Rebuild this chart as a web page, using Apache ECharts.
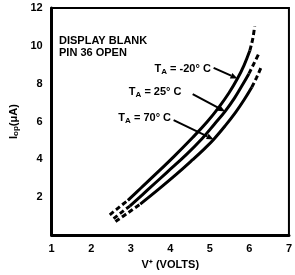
<!DOCTYPE html>
<html>
<head>
<meta charset="utf-8">
<script src="https://cdn.jsdelivr.net/npm/echarts@6/dist/echarts.min.js"></script>
<style>
  html, body { margin: 0; padding: 0; background: #fff; }
  #main { width: 295px; height: 275px; }
</style>
</head>
<body>
<div id="main"></div>
<script>
// axis ticks
var xTicks = [1, 2, 3, 4, 5, 6, 7];
var yTicks = [2, 4, 6, 8, 10, 12];

// TA = -20 C  (dashed ends + solid middle)
var cold_lo = [[2.470, 1.072], [2.711, 1.481], [2.928, 1.838]];
var cold_mid = [[2.928, 1.838], [3.265, 2.502], [3.602, 3.166], [4.084, 4.136], [4.566, 5.157], [4.928, 5.974],
  [5.241, 6.791], [5.482, 7.506], [5.699, 8.272], [5.867, 8.987], [6.012, 9.753]];
var cold_hi = [[6.012, 9.753], [6.084, 10.366], [6.133, 11.030]];

// TA = 25 C
var room_lo = [[2.566, 0.868], [2.783, 1.226], [2.976, 1.532]];
var room_mid = [[2.976, 1.532], [3.434, 2.400], [3.916, 3.319], [4.398, 4.238], [4.807, 5.106], [5.120, 5.872],
  [5.386, 6.536], [5.627, 7.251], [5.819, 7.915], [5.988, 8.528]];
var room_hi = [[5.988, 8.528], [6.108, 9.038], [6.229, 9.549]];

// TA = 70 C
var hot_lo = [[2.614, 0.715], [2.928, 1.174], [3.241, 1.634]];
var hot_mid = [[3.241, 1.634], [3.723, 2.451], [4.157, 3.217], [4.566, 3.983], [4.855, 4.545], [5.096, 5.055],
  [5.386, 5.770], [5.651, 6.485], [5.867, 7.149], [6.060, 7.813]];
var hot_hi = [[6.060, 7.813], [6.181, 8.323], [6.301, 8.885]];

// labels and pointer arrows (label left edge, arrow from label to curve, data coords)
var labels = [
  { t: '-20° C', at: [3.602, 8.783], from: [5.096, 8.834], to: [5.699, 8.272] },
  { t: '25° C',  at: [2.952, 7.557], from: [4.566, 7.455], to: [5.386, 6.536] },
  { t: '70° C',  at: [2.687, 6.179], from: [4.084, 6.077], to: [5.096, 5.055] }
];

var chart = echarts.init(document.getElementById('main'));
var font = '"Liberation Sans", Arial, sans-serif';

function curve(data, dashed) {
  return {
    type: 'line',
    data: data,
    smooth: 0.4,
    symbol: 'none',
    silent: true,
    lineStyle: { color: '#000', width: 3, type: dashed ? [5, 3] : 'solid' }
  };
}

chart.setOption({
  animation: false,
  grid: { left: 42, right: 4, top: 8, bottom: 32, show: true, borderColor: '#000', borderWidth: 2 },
  xAxis: {
    type: 'value', min: 1, max: 7, interval: 1,
    axisLine: { show: true, onZero: false, lineStyle: { color: '#000', width: 3 } },
    axisTick: { show: false },
    splitLine: { show: false },
    axisLabel: { color: '#000', fontWeight: 'bold', fontSize: 11, fontFamily: font, margin: 8 },
    name: 'V\u207A (VOLTS)', nameLocation: 'middle', nameGap: 23,
    nameTextStyle: { color: '#000', fontWeight: 'bold', fontSize: 11, fontFamily: font }
  },
  yAxis: {
    type: 'value', min: 0, max: 12, interval: 2,
    axisLine: { show: true, lineStyle: { color: '#000', width: 3 } },
    axisTick: { show: false },
    splitLine: { show: false },
    axisLabel: {
      color: '#000', fontWeight: 'bold', fontSize: 11, fontFamily: font, margin: 9,
      formatter: function (v) { return yTicks.indexOf(v) >= 0 ? String(v) : ''; }
    },
    name: '{a|I}{s|op}{a|(\u03BCA)}', nameLocation: 'middle', nameGap: 32,
    nameTextStyle: {
      color: '#000', fontWeight: 'bold', fontSize: 11, fontFamily: font,
      rich: {
        a: { fontWeight: 'bold', fontSize: 11, fontFamily: font, color: '#000' },
        s: { fontWeight: 'bold', fontSize: 8, fontFamily: font, color: '#000', padding: [4, 0, 0, 0] }
      }
    }
  },
  series: [
    curve(cold_lo, true), curve(cold_mid, false), curve(cold_hi, true),
    curve(room_lo, true), curve(room_mid, false), curve(room_hi, true),
    curve(hot_lo, true), curve(hot_mid, false), curve(hot_hi, true)
  ]
});

var g = [
  {
    type: 'text', left: 59, top: 35,
    style: { text: 'DISPLAY BLANK\nPIN 36 OPEN', fill: '#000', font: 'bold 11px ' + font, lineHeight: 12 }
  }
];
labels.forEach(function (l) {
  var p = chart.convertToPixel({ gridIndex: 0 }, l.at);
  var a = chart.convertToPixel({ gridIndex: 0 }, l.from);
  var b = chart.convertToPixel({ gridIndex: 0 }, l.to);
  g.push({
    type: 'text', x: p[0], y: p[1],
    style: {
      text: '{t|T}{s|A}{t| = ' + l.t + '}',
      fill: '#000', verticalAlign: 'middle',
      rich: {
        t: { font: 'bold 11px ' + font, fill: '#000', lineHeight: 14 },
        s: { font: 'bold 8px ' + font, fill: '#000', lineHeight: 14, padding: [5, 0, 0, 0] }
      }
    }
  });
  var ang = Math.atan2(b[1] - a[1], b[0] - a[0]);
  var h = 7, w = 3;
  g.push({
    type: 'line', shape: { x1: a[0], y1: a[1], x2: b[0] - Math.cos(ang) * h, y2: b[1] - Math.sin(ang) * h },
    style: { stroke: '#000', lineWidth: 2 }
  });
  g.push({
    type: 'polygon',
    shape: { points: [
      [b[0], b[1]],
      [b[0] - Math.cos(ang) * h - Math.sin(ang) * w, b[1] - Math.sin(ang) * h + Math.cos(ang) * w],
      [b[0] - Math.cos(ang) * h + Math.sin(ang) * w, b[1] - Math.sin(ang) * h - Math.cos(ang) * w]
    ] },
    style: { fill: '#000' }
  });
});
chart.setOption({ graphic: g });
</script>
</body>
</html>
